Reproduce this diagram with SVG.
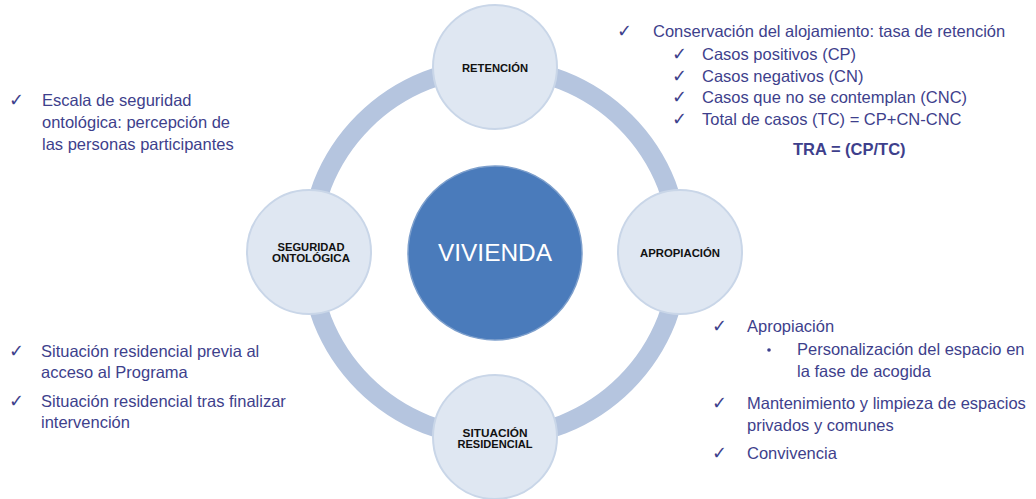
<svg xmlns="http://www.w3.org/2000/svg" width="1036" height="499" viewBox="0 0 1036 499">
<style>
.node{fill:#dfe7f2;stroke:#c9d6e8;stroke-width:2}
.lbl{font-family:"Liberation Sans",Arial,sans-serif;font-weight:bold;font-size:10.5px;fill:#111;text-anchor:middle}
.t{font-family:"Liberation Sans",Arial,sans-serif;font-size:16.5px;fill:#3e3f8c}
.ck{font-family:"DejaVu Sans",sans-serif;font-size:18px;fill:#3e3f8c}
</style>
<rect width="1036" height="499" fill="#ffffff"/>
<g id="connectors">
<circle cx="494.5" cy="252.5" r="185" fill="none" stroke="#b5c5df" stroke-width="19"/>
</g>
<g id="vivienda">
<circle cx="495" cy="253" r="87" fill="#4a7bbb" stroke="#7d9fcc" stroke-width="1.5"/>
<text x="495" y="261" font-family="'Liberation Sans',Arial,sans-serif" font-size="24" fill="#ffffff" text-anchor="middle" textLength="114" lengthAdjust="spacingAndGlyphs">VIVIENDA</text>
</g>
<g id="retencion">
<circle class="node" cx="495" cy="67" r="62"/>
<text class="lbl" x="495" y="72" textLength="66" lengthAdjust="spacingAndGlyphs">RETENCIÓN</text>
</g>
<g id="apropiacion">
<circle class="node" cx="680" cy="252" r="62"/>
<text class="lbl" x="680" y="257" textLength="80" lengthAdjust="spacingAndGlyphs">APROPIACIÓN</text>
</g>
<g id="seguridad">
<circle class="node" cx="309" cy="252" r="62"/>
<text class="lbl" x="311" y="251" textLength="67" lengthAdjust="spacingAndGlyphs">SEGURIDAD</text>
<text class="lbl" x="311" y="261.5" textLength="78" lengthAdjust="spacingAndGlyphs">ONTOLÓGICA</text>
</g>
<g id="situacion">
<circle class="node" cx="495" cy="437" r="62"/>
<text class="lbl" x="495" y="437" textLength="65" lengthAdjust="spacingAndGlyphs">SITUACIÓN</text>
<text class="lbl" x="495" y="448" textLength="75" lengthAdjust="spacingAndGlyphs">RESIDENCIAL</text>
</g>
<g id="texto-retencion">
<text class="ck" x="617" y="37">✓</text>
<text class="t" x="653" y="37">Conservación del alojamiento: tasa de retención</text>
<text class="ck" x="672" y="60">✓</text>
<text class="t" x="702" y="60">Casos positivos (CP)</text>
<text class="ck" x="672" y="82">✓</text>
<text class="t" x="702" y="82">Casos negativos (CN)</text>
<text class="ck" x="672" y="103">✓</text>
<text class="t" x="702" y="103">Casos que no se contemplan (CNC)</text>
<text class="ck" x="672" y="125">✓</text>
<text class="t" x="702" y="125">Total de casos (TC) = CP+CN-CNC</text>
<text class="t" x="793" y="155" font-weight="bold">TRA = (CP/TC)</text>
</g>
<g id="texto-seguridad">
<text class="ck" x="9" y="106">✓</text>
<text class="t" x="42" y="106">Escala de seguridad</text>
<text class="t" x="42" y="128">ontológica: percepción de</text>
<text class="t" x="42" y="150">las personas participantes</text>
</g>
<g id="texto-situacion">
<text class="ck" x="9" y="357">✓</text>
<text class="t" x="41" y="357">Situación residencial previa al</text>
<text class="t" x="41" y="378">acceso al Programa</text>
<text class="ck" x="9" y="407">✓</text>
<text class="t" x="41" y="407">Situación residencial tras finalizar</text>
<text class="t" x="41" y="428">intervención</text>
</g>
<g id="texto-apropiacion">
<text class="ck" x="712" y="332">✓</text>
<text class="t" x="747" y="332">Apropiación</text>
<circle cx="769" cy="350" r="1.8" fill="#3e3f8c"/>
<text class="t" x="797" y="355">Personalización del espacio en</text>
<text class="t" x="797" y="377">la fase de acogida</text>
<text class="ck" x="712" y="409">✓</text>
<text class="t" x="747" y="409">Mantenimiento y limpieza de espacios</text>
<text class="t" x="747" y="431">privados y comunes</text>
<text class="ck" x="712" y="459">✓</text>
<text class="t" x="747" y="459">Convivencia</text>
</g>
</svg>
